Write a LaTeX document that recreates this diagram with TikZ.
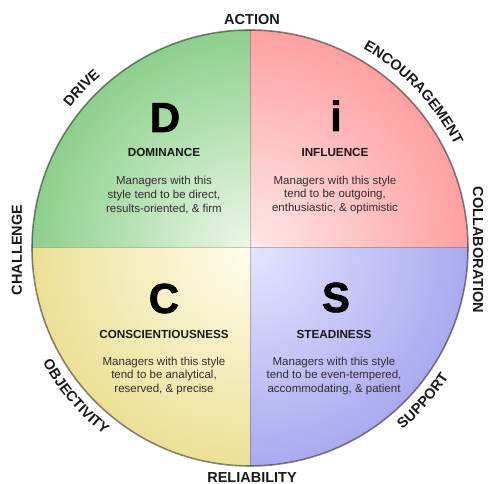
\documentclass[tikz,border=0pt]{standalone}
\usepackage{fontspec}
\setmainfont{Liberation Sans}
\newfontfamily\heavyfont[FakeBold=1.5]{Liberation Sans Bold}
\usetikzlibrary{decorations.text}
\definecolor{gIn}{RGB}{236,248,232}
\definecolor{gOut}{RGB}{140,208,140}
\definecolor{pIn}{RGB}{255,232,232}
\definecolor{pOut}{RGB}{255,160,160}
\definecolor{yIn}{RGB}{255,253,236}
\definecolor{yOut}{RGB}{236,224,150}
\definecolor{bIn}{RGB}{228,228,255}
\definecolor{bOut}{RGB}{170,170,240}
\definecolor{lbl}{RGB}{25,25,25}
\definecolor{dsc}{RGB}{50,45,45}
\newcommand\lblfont{\bfseries\fontsize{14.5}{14.5}\selectfont}
\begin{document}
\begin{tikzpicture}[x=1pt,y=1pt,
  bigletter/.style={font=\heavyfont\fontsize{42}{42}\selectfont, anchor=base, inner sep=0pt},
  titletext/.style={font=\bfseries\fontsize{11.7}{14}\selectfont, anchor=base, inner sep=0pt, text=lbl},
  desc/.style={font=\fontsize{11.5}{13.8}\selectfont, align=center, inner sep=0pt, text=dsc},
  outlabel/.style={font=\lblfont, inner sep=0pt, text=lbl},
  arclabel/.style={decorate, decoration={text along path, text align=center, text color=lbl}},
  divider/.style={draw=black, draw opacity=.22, line width=1pt},
  rim/.style={draw=black, draw opacity=.45, line width=1.6pt}
]
\useasboundingbox (0,0) rectangle (488,484);
\coordinate (c) at (250,236);
\def\R{218}
% quadrants
\begin{scope}\clip (c) rectangle ++(-\R,\R);
  \shade[inner color=gIn, outer color=gOut] (c) circle (\R);\end{scope}
\begin{scope}\clip (c) rectangle ++(\R,\R);
  \shade[inner color=pIn, outer color=pOut] (c) circle (\R);\end{scope}
\begin{scope}\clip (c) rectangle ++(-\R,-\R);
  \shade[inner color=yIn, outer color=yOut] (c) circle (\R);\end{scope}
\begin{scope}\clip (c) rectangle ++(\R,-\R);
  \shade[inner color=bIn, outer color=bOut] (c) circle (\R);\end{scope}
\coordinate (top) at (250,454);
\coordinate (bot) at (250,18);
\coordinate (lft) at (32,236);
\coordinate (rgt) at (468,236);
\draw[divider] (top) -- (bot);
\draw[divider] (lft) -- (rgt);
\draw[rim] (c) circle (\R);

% big letters
\node[bigletter] (D) at (165,352) {D};
\node[bigletter] (I) at (336,353) {i};
\node[bigletter] (Cl) at (164,171) {C};
\node[bigletter] (S) at (336,172) {S};

% titles
\node[titletext] (Dt) at (164,327) {DOMINANCE};
\node[titletext] (It) at (335,327) {INFLUENCE};
\node[titletext] (Ct) at (164,145) {CONSCIENTIOUSNESS};
\node[titletext] (St) at (334,145) {STEADINESS};

% descriptions
\node[desc] (Dd) at (164,289) {Managers with this\\style tend to be direct,\\results-oriented, \& firm};
\node[desc] (Id) at (335,289) {Managers with this style\\tend to be outgoing,\\enthusiastic, \& optimistic};
\node[desc] (Cd) at (164,108) {Managers with this style\\tend to be analytical,\\reserved, \& precise};
\node[desc] (Sd) at (334,108) {Managers with this style\\tend to be even-tempered,\\accommodating, \& patient};

% outer labels
\node[outlabel] (act) at (252,464) {ACTION};
\node[outlabel, anchor=base] (rel) at (252,1) {RELIABILITY};
\node[outlabel, rotate=90] (cha) at (17,234) {CHALLENGE};
\node[outlabel, rotate=-90] (col) at (478,234) {COLLABORATION};

\path[arclabel, decoration={text={|\lblfont|DRIVE}}]
  (c) ++(156:228) arc[start angle=156, end angle=117, radius=228];
\path[arclabel, decoration={text={|\lblfont|ENCOURAGEMENT}}]
  (c) ++(80:229) arc[start angle=80, end angle=7, radius=229];
\path[arclabel, decoration={text={|\lblfont|OBJECTIVITY}}]
  (c) ++(188:237) arc[start angle=188, end angle=253, radius=237];
\path[arclabel, decoration={text={|\lblfont|SUPPORT}}]
  (c) ++(288:237) arc[start angle=288, end angle=349, radius=237];
\end{tikzpicture}
\end{document}
